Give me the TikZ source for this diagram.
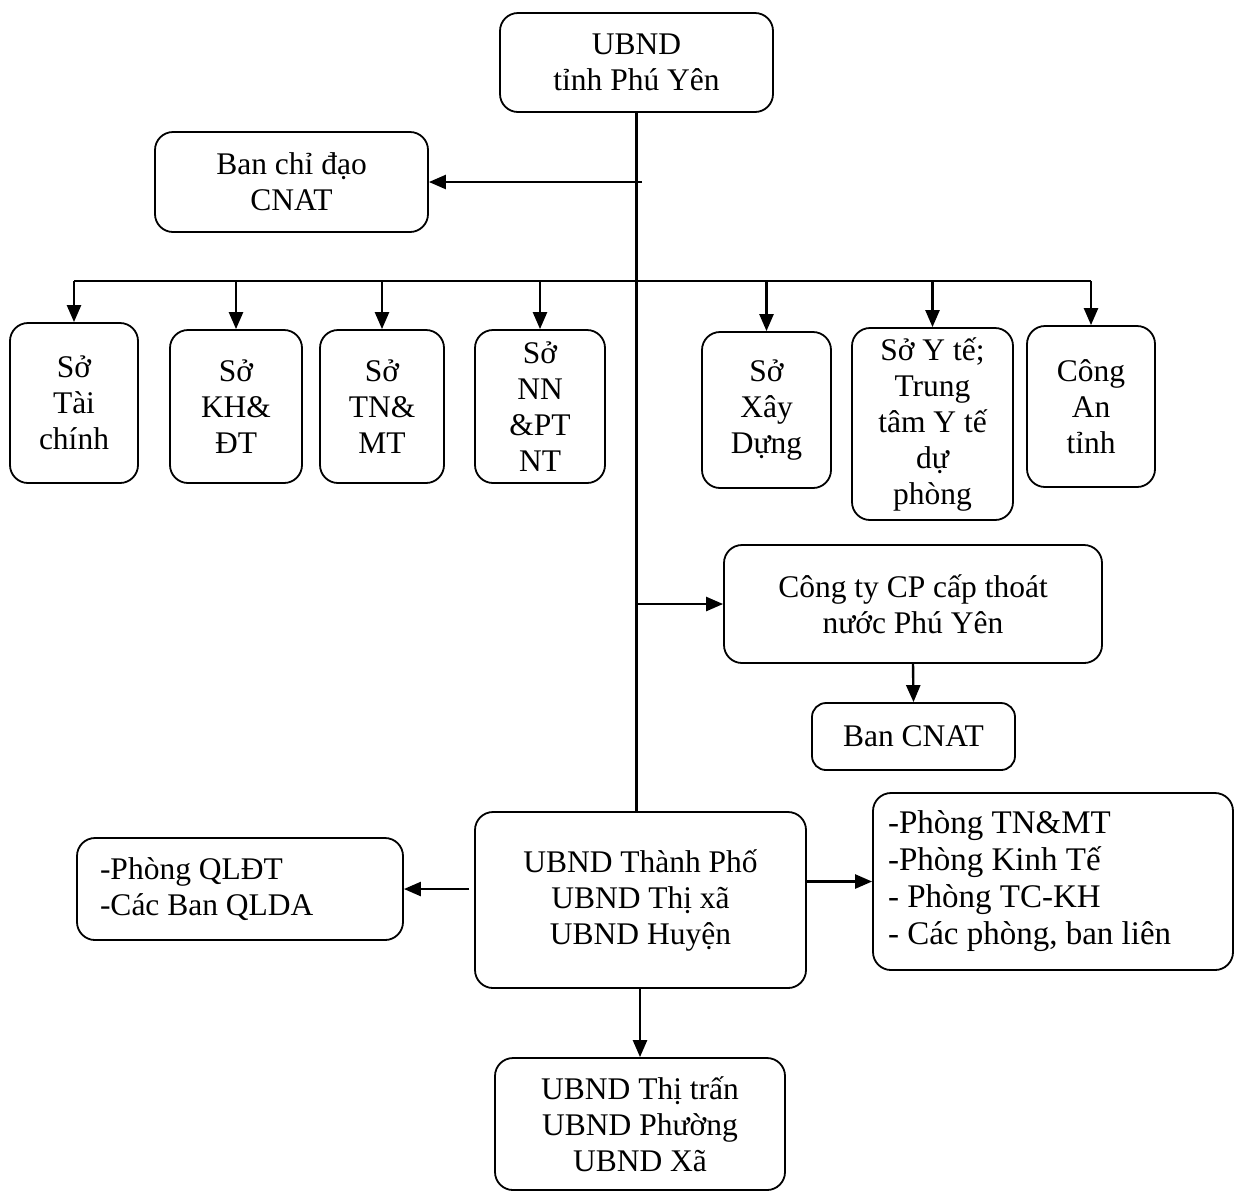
\documentclass[tikz,border=0pt]{standalone}
\usepackage{fontspec}
\setmainfont{Liberation Serif}
\usepackage{tikz}
\usetikzlibrary{arrows.meta,positioning,calc}

\begin{document}
\begin{tikzpicture}
   [x=0.5pt,y=-0.5pt,
    box/.style={draw,rounded corners=9pt,line width=0.9pt,align=center,
      inner sep=0pt,font=\fontsize{15.75}{18}\selectfont},
    arr/.style={-{Triangle[length=8.5pt,width=7pt]},line width=1.2pt},
    ln/.style={line width=1.2pt}]
\useasboundingbox (0,0) rectangle (1235,1191);

\node [box,minimum width=136.5pt,minimum height=49.5pt] (top) at (636.5,62.5) {UBND\\tỉnh Phú Yên};
\node [box,minimum width=136.5pt,minimum height=50pt] (bcd) at (291.5,182) {Ban chỉ đạo\\CNAT};

\node [box,minimum width=64pt,minimum height=80pt] (so1) at (74,403) {Sở\\Tài\\chính};
\node [box,minimum width=66pt,minimum height=76.5pt] (so2) at (236,406.5) {Sở\\KH\&\\ĐT};
\node [box,minimum width=62pt,minimum height=76.5pt] (so3) at (382,406.5) {Sở\\TN\&\\MT};
\node [box,minimum width=65pt,minimum height=76.5pt] (so4) at (540,406.5) {Sở\\NN\\\&PT\\NT};
\node [box,minimum width=64.5pt,minimum height=78pt] (so5) at (766.5,410) {Sở\\Xây\\Dựng};
\node [box,minimum width=80.5pt,minimum height=96pt] (so6) at (932.5,424) {Sở Y tế;\\Trung\\tâm Y tế\\dự\\phòng};
\node [box,minimum width=64pt,minimum height=80.5pt] (so7) at (1091,406.5) {Công\\An\\tỉnh};

\node [box,minimum width=189pt,minimum height=59pt] (cty) at (913,604) {Công ty CP cấp thoát\\nước Phú Yên};
\node [box,rounded corners=7pt,minimum width=101.5pt,minimum height=33.5pt] (bcn) at (913.5,736.5) {Ban CNAT};

\node [box,minimum width=165.5pt,minimum height=88pt] (huyen) at (640.5,900) {UBND Thành Phố\\UBND Thị xã\\UBND Huyện};
\node [box,align=flush left,text width=140pt,minimum width=163pt,minimum height=51pt] (ql) at (240,889) {-Phòng QLĐT\\-Các Ban QLDA};
\node [box,align=flush left,text width=165pt,minimum width=180pt,minimum height=88.5pt,
  font=\fontsize{16.5}{18.5}\selectfont] (pb) at (1053,881.5) {-Phòng TN\&MT\\-Phòng Kinh Tế\\- Phòng TC-KH\\- Các phòng, ban liên};
\node [box,minimum width=145pt,minimum height=66pt] (xa) at (640,1124) {UBND Thị trấn\\UBND Phường\\UBND Xã};

\coordinate (bus) at (636,281);
\coordinate (j1) at (642,186);

\draw [ln] (top.south) -- (top.south |- huyen.north);
\draw [ln] (so1.north |- bus) -- (so7.north |- bus);
\foreach \i in {1,...,7}
  \draw [arr] (so\i.north |- bus) -- (so\i.north);
\draw [arr] (bcd.east -| j1) -- (bcd.east);
\draw [arr] (top.south |- cty.west) -- (cty.west);
\draw [arr] (cty.south) -- (bcn.north);
\draw [arr] ([xshift=-2.5pt]huyen.west |- ql.east) -- (ql.east);
\draw [arr] (huyen.east |- pb.west) -- (pb.west);
\draw [arr] (xa.north |- huyen.south) -- (xa.north);
\end{tikzpicture}
\end{document}
